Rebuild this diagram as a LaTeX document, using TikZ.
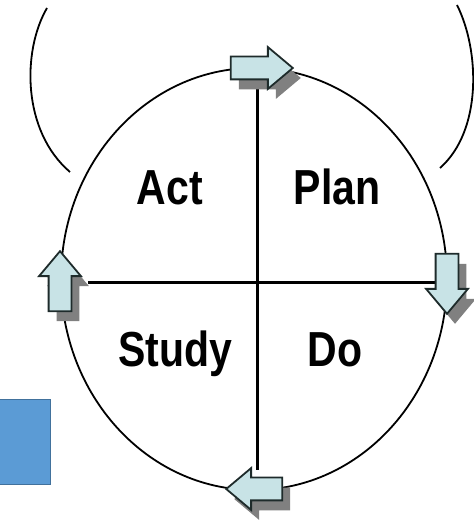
\documentclass[tikz,border=0pt]{standalone}
\usepackage{fontspec}
\setmainfont{Liberation Sans}
\usetikzlibrary{shapes.arrows,shadows}

\definecolor{arrowfill}{HTML}{C8E3E6}
\definecolor{arrowline}{HTML}{1E2B2B}
\definecolor{boxfill}{HTML}{5B9BD5}
\definecolor{boxline}{HTML}{41719C}

\tikzset{
	cycle arrow/.style={
		single arrow,
		draw=arrowline,
		fill=arrowfill,
		line width=1.8pt,
		inner sep=10.5pt,
		minimum height=60pt,
		single arrow head extend=9.5pt,
		single arrow tip angle=80,
		drop shadow={shadow xshift=8pt, shadow yshift=-10pt, fill=black!50, opacity=1}
	},
	quadrant/.style={
		font=\bfseries\fontsize{41}{41}\selectfont,
		inner sep=0pt,
		anchor=base
	}
}

\begin{document}
\begin{tikzpicture}[x=1pt,y=1pt]
	\useasboundingbox (0,0) rectangle (473,521);
	\fill[white] (0,0) rectangle (473,521);

	% box cut by the left edge
	\draw[fill=boxfill, draw=boxline, line width=1pt] (-2,36) rectangle (50,121);

	% the two outer arcs
	\draw[line width=1.8pt] (47,513) .. controls (22,470) and (22,390) .. (70,349);
	\draw[line width=1.8pt] (457,516) .. controls (480,470) and (482,390) .. (440,353);

	% cycle
	\coordinate (c) at (254,242);
	\coordinate (west) at (88,238);
	\coordinate (east) at (437,238);
	\coordinate (north) at (257,433);
	\coordinate (south) at (257,51);
	\draw[line width=1.8pt] (c) ellipse [x radius=193, y radius=211];
	\draw[line width=3pt] (west) -- (east);
	\draw[line width=3pt] (north) -- (south);

	\node[cycle arrow, minimum height=62pt] (toparrow) at (255,453) {};
	\node[cycle arrow, shape border rotate=270] (rightarrow) at (447,244) {};
	\node[cycle arrow, shape border rotate=180, minimum height=56pt] (bottomarrow) at (261,32) {};
	\node[cycle arrow, shape border rotate=90] (leftarrow) at (60,233) {};

	\node[quadrant] (act) at (170,316) {\scalebox{1}[1.2]{Act}};
	\node[quadrant] (plan) at (337,316) {\scalebox{1}[1.2]{Plan}};
	\node[quadrant] (study) at (175,154) {\scalebox{1}[1.2]{Study}};
	\node[quadrant] (do) at (335,154) {\scalebox{1}[1.2]{Do}};
\end{tikzpicture}
\end{document}
